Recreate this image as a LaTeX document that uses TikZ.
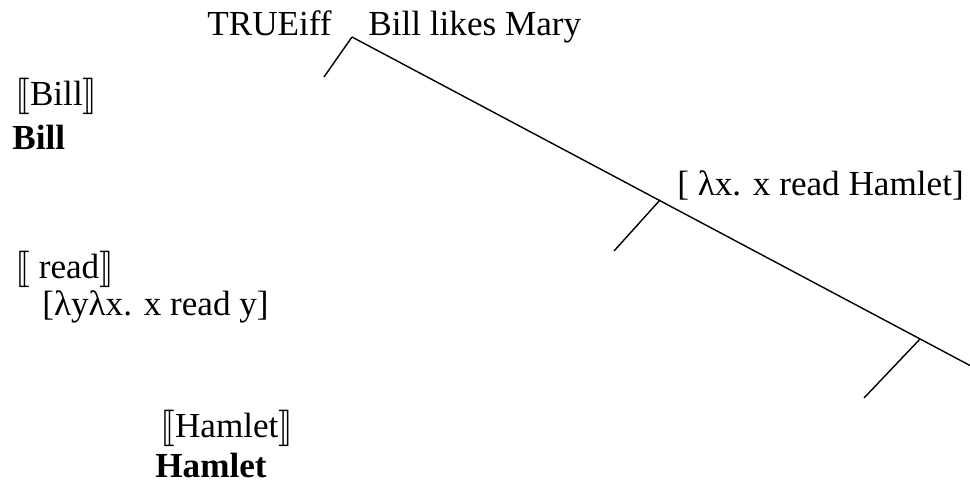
\documentclass[tikz,border=0pt]{standalone}
\usepackage{fontspec}
\setmainfont{Liberation Serif}
\usepackage{stmaryrd}
\newcommand{\den}[1]{$\llbracket$#1$\rrbracket$}
\begin{document}
\fontsize{20}{24}\selectfont
\begin{tikzpicture}[lbl/.style={anchor=base west, inner sep=0pt}]
		\useasboundingbox (0,0) rectangle (19.4,9.78);
		\coordinate (root) at (7.04,9.04);
		\coordinate (vp) at (13.2,5.78);
		\coordinate (v) at (18.4,3.0);
		\coordinate (rend) at (19.4,2.47);
		\coordinate (subj) at (6.48,8.24);
		\coordinate (verb) at (12.28,4.76);
		\coordinate (obj) at (17.28,1.82);
		\draw[thick] (root) -- (rend);
		\draw[thick] (root) -- (subj);
		\draw[thick] (vp) -- (verb);
		\draw[thick] (v) -- (obj);
		\node[lbl] (truth) at (4.14,9.06) {TRUEiff};
		\node[lbl] (prop) at (7.36,9.06) {Bill likes Mary};
		\node[lbl] (billden) at (0.3,7.66) {\den{Bill}};
		\node[lbl] (billval) at (0.24,6.78) {\textbf{Bill}};
		\node[lbl] (vpval) at (13.54,5.88) {[ λx. x read Hamlet]};
		\node[lbl] (readden) at (0.3,4.22) {\den{ read}};
		\node[lbl] (readval) at (0.84,3.48) {[λyλx. x read y]};
		\node[lbl] (hamden) at (3.2,1.04) {\den{Hamlet}};
		\node[lbl] (hamval) at (3.1,0.24) {\textbf{Hamlet}};
	\end{tikzpicture}
\end{document}
